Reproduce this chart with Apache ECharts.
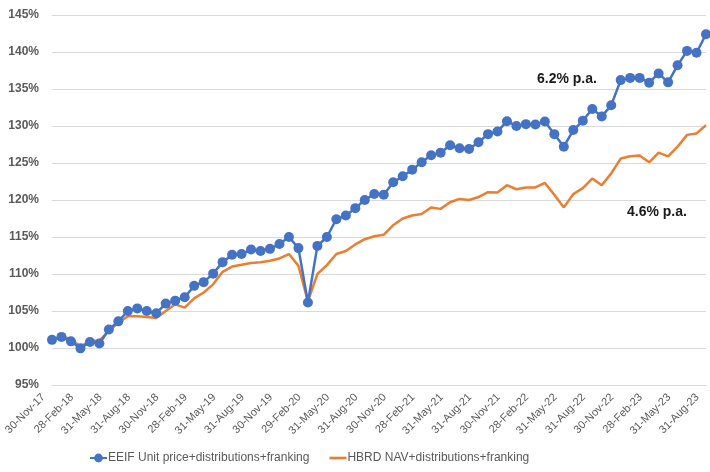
<!DOCTYPE html>
<html>
<head>
<meta charset="utf-8">
<script src="https://cdn.jsdelivr.net/npm/echarts@6/dist/echarts.min.js"></script>
<style>html,body{margin:0;padding:0;background:#fff}#c{width:710px;height:472px}</style>
</head>
<body>
<div id="c"></div>
<script>
var categories = [
 '30-Nov-17','31-Dec-17','31-Jan-18','28-Feb-18','31-Mar-18','30-Apr-18','31-May-18','30-Jun-18','31-Jul-18','31-Aug-18','30-Sep-18','31-Oct-18',
 '30-Nov-18','31-Dec-18','31-Jan-19','28-Feb-19','31-Mar-19','30-Apr-19','31-May-19','30-Jun-19','31-Jul-19','31-Aug-19','30-Sep-19','31-Oct-19',
 '30-Nov-19','31-Dec-19','31-Jan-20','29-Feb-20','31-Mar-20','30-Apr-20','31-May-20','30-Jun-20','31-Jul-20','31-Aug-20','30-Sep-20','31-Oct-20',
 '30-Nov-20','31-Dec-20','31-Jan-21','28-Feb-21','31-Mar-21','30-Apr-21','31-May-21','30-Jun-21','31-Jul-21','31-Aug-21','30-Sep-21','31-Oct-21',
 '30-Nov-21','31-Dec-21','31-Jan-22','28-Feb-22','31-Mar-22','30-Apr-22','31-May-22','30-Jun-22','31-Jul-22','31-Aug-22','30-Sep-22','31-Oct-22',
 '30-Nov-22','31-Dec-22','31-Jan-23','28-Feb-23','31-Mar-23','30-Apr-23','31-May-23','30-Jun-23','31-Jul-23','31-Aug-23'
];
var eeif = [
 101.1,101.5,100.9,99.95,100.8,100.6,102.5,103.6,105.0,105.35,105.0,104.7,
 106.0,106.4,106.85,108.4,108.9,110.05,111.6,112.6,112.7,113.3,113.1,113.4,
 114.05,115.0,113.5,106.15,113.8,115.0,117.4,117.9,118.9,120.0,120.8,120.7,
 122.4,123.2,124.1,125.1,126.05,126.4,127.4,127.0,126.9,127.8,128.9,129.25,
 130.65,130.0,130.25,130.2,130.6,128.9,127.2,129.45,130.7,132.3,131.3,132.8,
 136.2,136.5,136.5,135.85,137.1,135.9,138.2,140.15,139.9,142.4
];
var hbrd = [
 101.1,101.5,101.3,100.15,101.0,100.95,102.3,103.4,104.3,104.3,104.2,104.05,
 105.0,105.9,105.45,106.7,107.5,108.6,110.3,111.0,111.25,111.5,111.6,111.8,
 112.1,112.7,111.1,106.3,110.0,111.2,112.7,113.1,114.0,114.7,115.1,115.3,
 116.6,117.5,117.9,118.1,119.0,118.8,119.7,120.15,120.0,120.4,121.05,121.0,
 122.0,121.45,121.7,121.7,122.3,120.7,119.0,120.8,121.6,122.9,122.0,123.6,
 125.6,125.9,126.0,125.1,126.4,125.9,127.2,128.8,129.0,130.1
];
var yMin = 95, yMax = 145, yStep = 5;
var labelEEIF = '6.2% p.a.';
var labelHBRD = '4.6% p.a.';

var font = "'Liberation Sans',sans-serif";
var chart = echarts.init(document.getElementById('c'), null, {renderer:'canvas'});
chart.setOption({
  animation: false,
  grid: {left: 52, right: 4, top: 15, bottom: 87, containLabel: false},
  xAxis: {
    type: 'category', data: categories, boundaryGap: false,
    axisLine: {show: true, lineStyle: {color: '#d9d9d9', width: 1}},
    axisTick: {show: false},
    axisLabel: {interval: 2, rotate: 45, color: '#595959', fontFamily: font, fontSize: 11, margin: 2, padding: [0, 12, 0, 0]}
  },
  yAxis: {
    type: 'value', min: yMin, max: yMax, interval: yStep,
    axisLine: {show: false}, axisTick: {show: false},
    splitLine: {lineStyle: {color: '#d9d9d9', width: 1}},
    axisLabel: {formatter: '{value}%', color: '#595959', fontFamily: font, fontWeight: 'bold', fontSize: 12, margin: 13}
  },
  legend: {
    bottom: 3, left: 84, itemGap: 20, itemWidth: 17, itemHeight: 11,
    textStyle: {color: '#595959', fontFamily: font, fontSize: 12, padding: [0,0,0,-4]},
    data: [
      {name: 'EEIF Unit price+distributions+franking'},
      {name: 'HBRD NAV+distributions+franking', icon: 'path://M0,0 L16,0 L16,2.5 L0,2.5 Z'}
    ]
  },
  series: [
    {name: 'EEIF Unit price+distributions+franking', type: 'line', data: eeif,
     symbol: 'circle', symbolSize: 10, showAllSymbol: true, z: 3,
     itemStyle: {color: '#4472C4'}, lineStyle: {color: '#4472C4', width: 2.5}},
    {name: 'HBRD NAV+distributions+franking', type: 'line', data: hbrd,
     symbol: 'none', z: 2,
     itemStyle: {color: '#ED7D31'}, lineStyle: {color: '#ED7D31', width: 2.5}}
  ],
  graphic: [
    {type: 'text', left: 537, top: 72, style: {text: labelEEIF, font: "bold 14px 'Liberation Sans',sans-serif", fill: '#1a1a1a'}},
    {type: 'text', left: 627, top: 205, style: {text: labelHBRD, font: "bold 14px 'Liberation Sans',sans-serif", fill: '#1a1a1a'}}
  ]
});
</script>
</body>
</html>
